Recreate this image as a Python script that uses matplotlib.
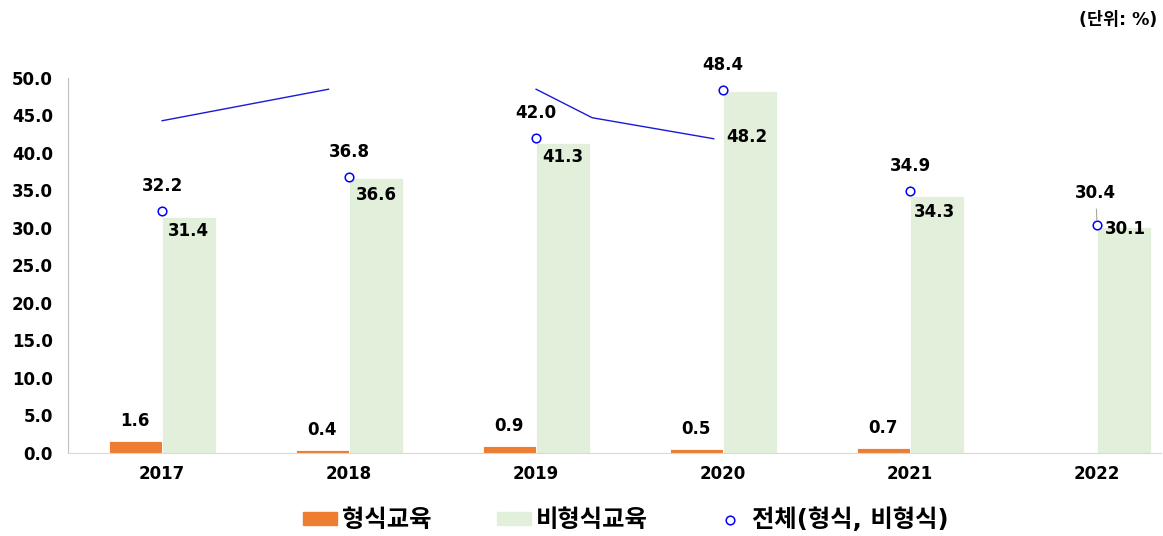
import numpy as np
import matplotlib.pyplot as plt
from matplotlib.patches import Patch
from matplotlib.lines import Line2D

plt.rcParams['font.family'] = ['DejaVu Sans', 'Noto Sans CJK KR']
plt.rcParams['font.weight'] = 'bold'

years = ['2017', '2018', '2019', '2020', '2021', '2022']
formal = [1.6, 0.4, 0.9, 0.5, 0.7, np.nan]
nonformal = [31.4, 36.6, 41.3, 48.2, 34.3, 30.1]
total = [32.2, 36.8, 42.0, 48.4, 34.9, 30.4]

# stray blue line segments visible in the source chart
line_x = [0, 0.89, np.nan, 2.0, 2.30, 2.95]
line_y = [44.3, 48.5, np.nan, 48.5, 44.7, 41.9]

# label offsets (points) for the non-formal values, placed by hand in the source
nf_dx = [-0.5, 0.5, 0, -2, -1.5, 0.7]
nf_dy = [-9.7, -11.9, -10, -33, -11.5, -1.5]

orange = '#ED7D31'
green = '#E2EFDA'
blue = '#0000FF'

fig = plt.figure(figsize=(11.63, 5.36), dpi=100)
ax = fig.add_axes([0.0585, 0.1549, 0.9395, 0.6996])

x = np.arange(len(years))
w = 0.285
ax.bar(x - 0.144, formal, w, color=orange, edgecolor='white', linewidth=0.6)
ax.bar(x + 0.144, nonformal, w, color=green, edgecolor='white', linewidth=0.6)
ax.plot(line_x, line_y, color='#1a1ad6', lw=1.0)
ax.plot(x, total, 'o', ms=6.2, mfc='white', mec=blue, mew=1.1)

fs = 12
for i in range(len(years)):
    if not np.isnan(formal[i]):
        ax.annotate(f'{formal[i]:.1f}', (x[i] - 0.144, formal[i]), xytext=(0, 14.5),
                    textcoords='offset points', ha='center', va='center', fontsize=fs)
    ax.annotate(f'{nonformal[i]:.1f}', (x[i] + 0.144, nonformal[i]),
                xytext=(nf_dx[i], nf_dy[i]), textcoords='offset points',
                ha='center', va='center', fontsize=fs)
    if i == 5:
        ax.annotate(f'{total[i]:.1f}', (x[i], total[i]), xytext=(-1, 23),
                    textcoords='offset points', ha='center', va='center', fontsize=fs,
                    arrowprops=dict(arrowstyle='-', color='#a6a6a6', lw=0.8,
                                    shrinkA=3, shrinkB=3.5))
    else:
        ax.annotate(f'{total[i]:.1f}', (x[i], total[i]), xytext=(0, 18),
                    textcoords='offset points', ha='center', va='center', fontsize=fs)

ax.set_xlim(-0.503, 5.34)
ax.set_ylim(0, 50)
ax.set_yticks(np.arange(0, 50.1, 5))
ax.set_yticklabels([f'{v:.1f}' for v in np.arange(0, 50.1, 5)], fontsize=fs)
ax.set_xticks(x)
ax.set_xticklabels(years, fontsize=fs)
ax.tick_params(axis='y', length=0, pad=11)
ax.tick_params(axis='x', length=0, pad=9)
for s in ['top', 'right']:
    ax.spines[s].set_visible(False)
ax.spines['left'].set_color('#c0c0c0')
ax.spines['bottom'].set_color('#d9d9d9')

fig.text(0.995, 0.962, '(단위: %)', ha='right', va='center', fontsize=12.5)

handles = [Patch(color=orange), Patch(color=green),
           Line2D([], [], ls='none', marker='o', ms=6.2, mfc='white', mec=blue, mew=1.1)]
labels = ['형식교육', '비형식교육', '전체(형식, 비형식)']
fig.legend(handles, labels, loc='center', bbox_to_anchor=(626 / 1163, 0.03), ncol=3,
           frameon=False, fontsize=17.5, handlelength=1.4, handleheight=0.42,
           handletextpad=0.2, columnspacing=2.7)

fig.savefig('out.png', dpi=100)
